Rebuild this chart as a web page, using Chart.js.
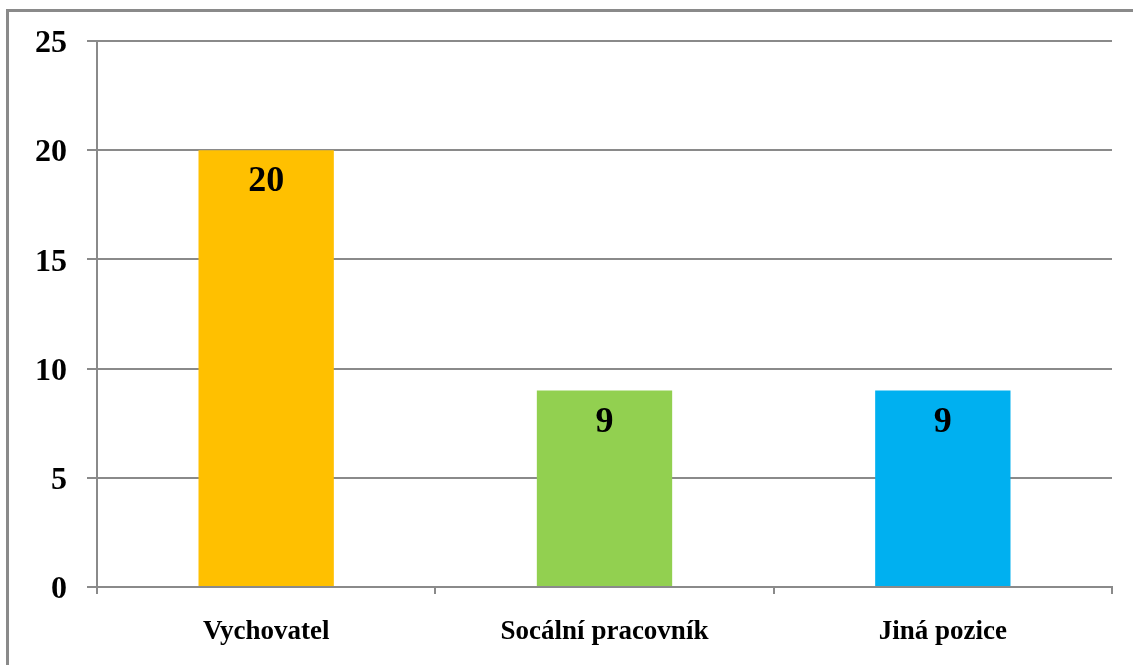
<!DOCTYPE html>
<html lang="cs">
<head>
    <meta charset="UTF-8">
    <title>Pozice</title>
    <script src="https://cdn.jsdelivr.net/npm/chart.js"></script>
    <style>
        html, body { margin: 0; padding: 0; background: #fff; }
        .frame {
            position: absolute; left: 6px; top: 9px; width: 1140px; height: 700px;
            border-left: 3px solid #8a8a8a; border-top: 3px solid #8a8a8a;
        }
        .wrap { position: absolute; left: 0; top: 0; width: 1133px; height: 665px; }
    </style>
</head>
<body>
    <div class="frame"></div>
    <div class="wrap"><canvas id="chart"></canvas></div>

    <script>
        const categories = ['Vychovatel', 'Socální pracovník', 'Jiná pozice'];
        const values = [20, 9, 9];
        const barColors = ['#FFC000', '#92D050', '#00B0F0'];
        const yTicks = [0, 5, 10, 15, 20, 25];

        const serif = '"Liberation Serif", "Times New Roman", serif';
        const gridColor = '#8a8a8a';

        // values drawn inside the top of each bar
        const valueLabels = {
            id: 'valueLabels',
            afterDatasetsDraw(chart) {
                const ctx = chart.ctx;
                const meta = chart.getDatasetMeta(0);
                ctx.save();
                ctx.font = 'bold 36px ' + serif;
                ctx.fillStyle = '#000';
                ctx.textAlign = 'center';
                ctx.textBaseline = 'middle';
                meta.data.forEach((bar, i) => {
                    ctx.fillText(values[i], bar.x, bar.y + 32);
                });
                ctx.restore();
            }
        };

        new Chart(document.getElementById('chart'), {
            type: 'bar',
            data: {
                labels: categories,
                datasets: [{
                    data: values,
                    backgroundColor: barColors,
                    borderWidth: 0,
                    barPercentage: 0.4,
                    categoryPercentage: 1
                }]
            },
            options: {
                responsive: true,
                maintainAspectRatio: false,
                animation: false,
                layout: { padding: { left: 0, right: 21, top: 41, bottom: 0 } },
                plugins: {
                    legend: { display: false },
                    tooltip: { enabled: false }
                },
                scales: {
                    x: {
                        afterFit(scale) { scale.height = 78; },
                        grid: {
                            offset: true,
                            drawOnChartArea: false,
                            color: gridColor,
                            lineWidth: 2,
                            tickLength: 7
                        },
                        border: { color: gridColor, width: 2 },
                        ticks: {
                            color: '#000',
                            padding: 22,
                            font: { family: serif, size: 27, weight: 'bold' }
                        }
                    },
                    y: {
                        min: 0,
                        max: 25,
                        afterFit(scale) { scale.width = 97; },
                        afterBuildTicks(scale) {
                            scale.ticks = yTicks.map(v => ({ value: v }));
                        },
                        grid: {
                            color: gridColor,
                            lineWidth: 2,
                            tickLength: 10
                        },
                        border: { color: gridColor, width: 2 },
                        ticks: {
                            color: '#000',
                            padding: 20,
                            labelOffset: 3,
                            font: { family: serif, size: 32, weight: 'bold' }
                        }
                    }
                }
            },
            plugins: [valueLabels]
        });
    </script>
</body>
</html>
